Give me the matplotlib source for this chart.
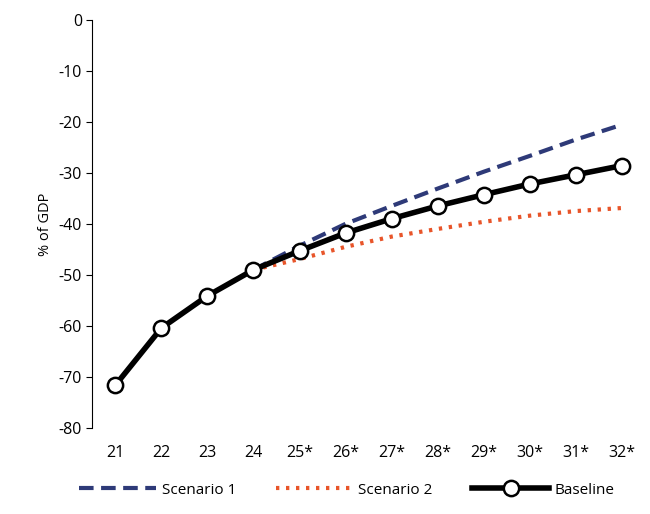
import matplotlib.pyplot as plt
import numpy as np

years = ["21", "22", "23", "24", "25*", "26*", "27*", "28*", "29*", "30*", "31*", "32*"]
baseline = [-71.6, -60.4, -54.1, -49.0, -45.3, -41.8, -39.0, -36.5, -34.3, -32.2, -30.4, -28.6]
scenario1 = [None, None, None, -49.0, -44.3, -40.0, -36.5, -33.1, -29.8, -26.7, -23.5, -20.6]
scenario2 = [None, None, None, -49.0, -46.9, -44.5, -42.5, -41.0, -39.6, -38.4, -37.5, -36.9]

plt.rcParams['font.family'] = ['Open Sans', 'DejaVu Sans']
plt.rcParams['axes.unicode_minus'] = False
fig, ax = plt.subplots(figsize=(6.5, 5.14), dpi=100)
fig.subplots_adjust(left=0.142, right=0.985, top=0.962, bottom=0.167)

x = np.arange(len(years))
s1 = np.array([np.nan if v is None else v for v in scenario1])
s2 = np.array([np.nan if v is None else v for v in scenario2])
ax.plot(x, s1, color="#2e3a78", linestyle=(0, (3.5, 1.8)), lw=3, label="Scenario 1")
ax.plot(x, s2, color="#e8552a", linestyle=(0, (0.8, 1.6)), lw=3, label="Scenario 2")
ax.plot(x, baseline, color="black", lw=4, marker="o", ms=11, mfc="white",
        mec="black", mew=1.8, label="Baseline")

ax.set_ylim(-80, 0)
ax.set_yticks(range(-80, 1, 10))
ax.set_xlim(-0.5, len(years) - 0.6)
ax.set_xticks(x)
ax.set_xticklabels(years)
ax.set_ylabel("% of GDP", fontsize=10.5)
for s in ["top", "right", "bottom"]:
    ax.spines[s].set_visible(False)
ax.tick_params(axis="x", length=0, labelsize=11.5, pad=12)
ax.tick_params(axis="y", length=4, labelsize=11.5)
ax.legend(loc="upper center", bbox_to_anchor=(0.465, -0.1), ncol=3, frameon=False,
          fontsize=11, handlelength=5.0, handletextpad=0.4, columnspacing=2.6)
fig.savefig("out.png")
